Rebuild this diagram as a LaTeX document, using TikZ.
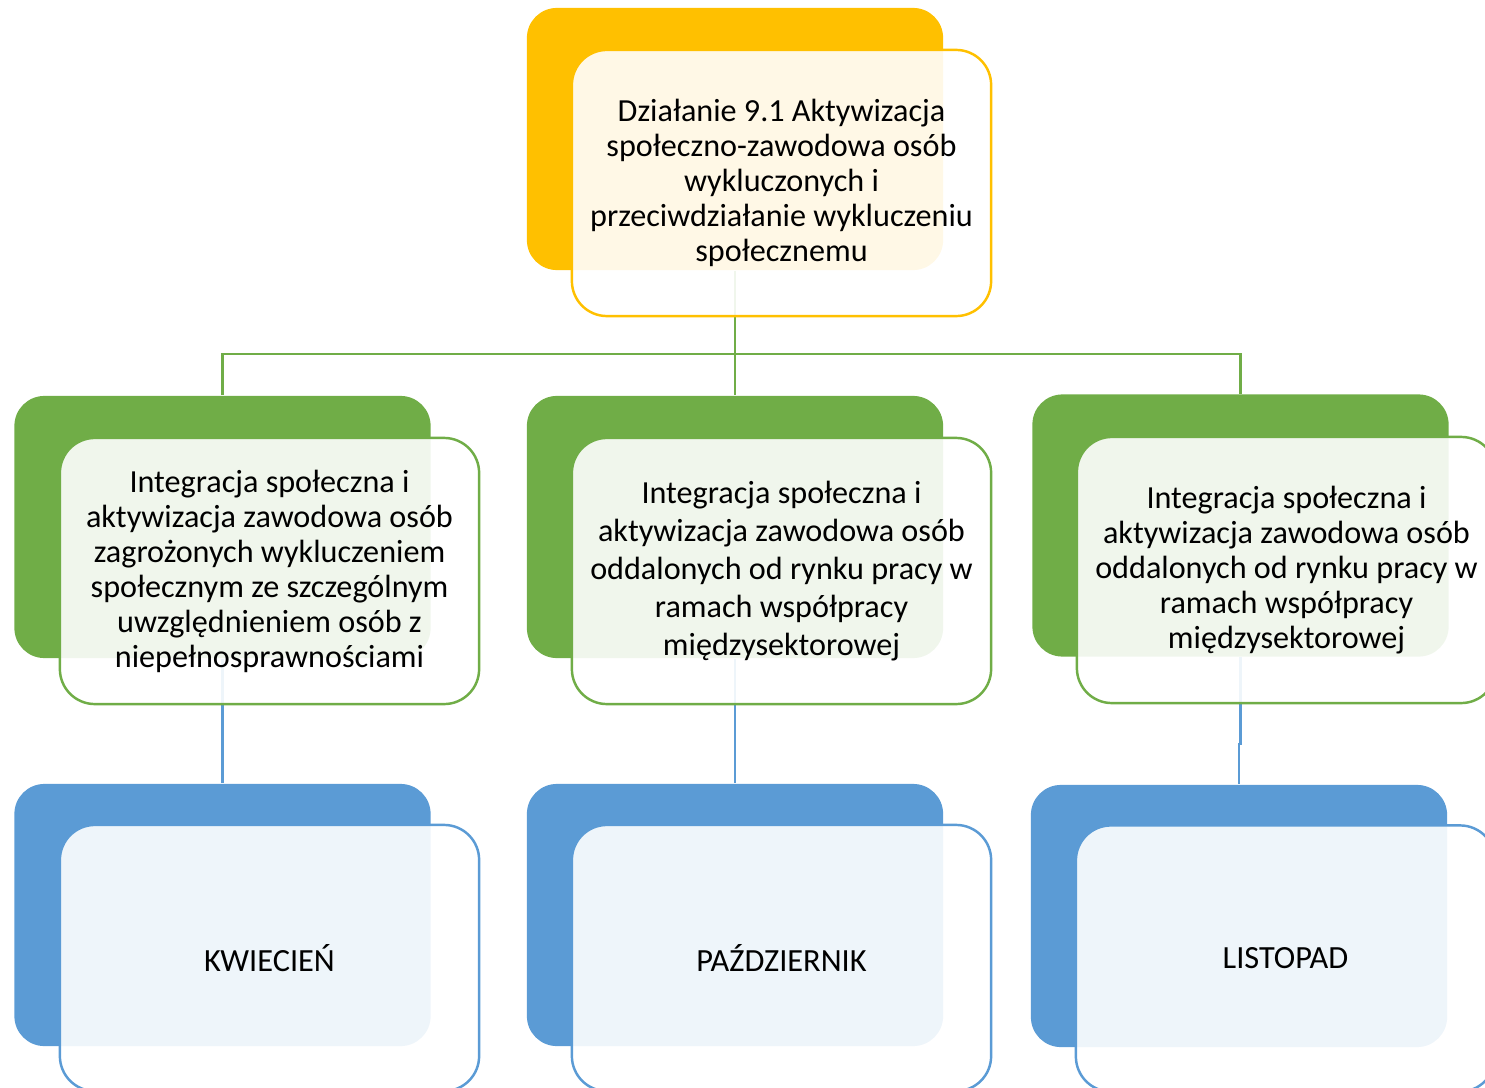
\documentclass[tikz,border=0pt]{standalone}
\usepackage{fontspec}
\setmainfont{Carlito}
\usetikzlibrary{positioning}
\definecolor{yel}{HTML}{FFC000}
\definecolor{grn}{HTML}{70AD47}
\definecolor{blu}{HTML}{5B9BD5}

\tikzset{
  back/.style={fill=#1, rounded corners=0.3cm, minimum width=4.16cm, minimum height=2.62cm, inner sep=0pt},
  front/.style={draw=#1, line width=0.7pt, fill=white, fill opacity=0.9, text opacity=1, rounded corners=0.35cm,
    minimum width=4.19cm, minimum height=2.66cm, inner sep=0pt, align=center, font=\fontsize{9.15pt}{9.96pt}\selectfont},
  month/.style={font=\fontsize{9.2pt}{11pt}\selectfont},
  link/.style={draw=#1, line width=0.6pt},
}

\begin{document}
\begin{tikzpicture}[x=0.01cm,y=-0.01cm]
	\useasboundingbox (0,0) rectangle (1485,1088);
	% back boxes
	\node[back=yel] (top) at (735,139) {};
	\node[back=grn] (g1) at (222.5,527) {};
	\node[back=grn] (g2) at (735,527) {};
	\node[back=grn] (g3) at (1240.5,525.5) {};
	\node[back=blu] (b1) at (222.5,915) {};
	\node[back=blu] (b2) at (735,915) {};
	\node[back=blu] (b3) at (1239,916) {};

	% connectors
	\coordinate (fork) at (735,354);
	\draw[link=grn] (top.south) -- (fork);
	\draw[link=grn] (g1.north) |- (fork) -| (g3.north);
	\draw[link=grn] (fork) -- (g2.north);
	\draw[link=blu] (g1.south) -- (b1.north);
	\draw[link=blu] (g2.south) -- (b2.north);
	\draw[link=blu] (g3.south) -- ++(0,87) -| (b3.north);

	% front boxes
	\node[front=yel] (topf) at ([shift={(46.5,44)}]top.center)
		{Działanie 9.1 Aktywizacja\\społeczno-zawodowa osób\\wykluczonych i\\przeciwdziałanie wykluczeniu\\społecznemu};
	\node[front=grn] (g1f) at ([shift={(47,44)}]g1.center)
		{Integracja społeczna i\\aktywizacja zawodowa osób\\zagrożonych wykluczeniem\\społecznym ze szczególnym\\uwzględnieniem osób z\\niepełnosprawnościami};
	\node[front=grn, font=\fontsize{9.15pt}{10.8pt}\selectfont] (g2f) at ([shift={(46.5,44)}]g2.center)
		{Integracja społeczna i\\aktywizacja zawodowa osób\\oddalonych od rynku pracy w\\ramach współpracy\\międzysektorowej};
	\node[front=grn] (g3f) at ([shift={(46,44.5)}]g3.center)
		{Integracja społeczna i\\aktywizacja zawodowa osób\\oddalonych od rynku pracy w\\ramach współpracy\\międzysektorowej};
	\node[front=blu, month] (b1f) at ([shift={(47,43)}]b1.center) {KWIECIEŃ};
	\node[front=blu, month] (b2f) at ([shift={(46.5,43)}]b2.center) {PAŹDZIERNIK};
	\node[front=blu, month] (b3f) at ([shift={(46.5,42.5)}]b3.center) {LISTOPAD};
\end{tikzpicture}
\end{document}
